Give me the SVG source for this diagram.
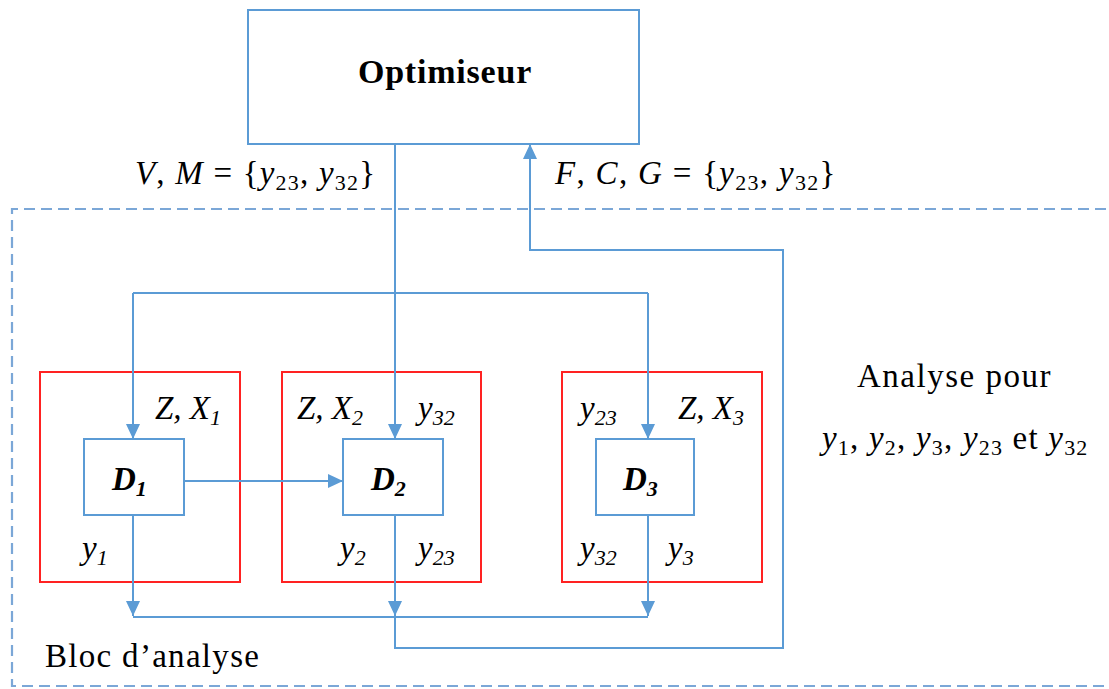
<svg xmlns="http://www.w3.org/2000/svg" width="1109" height="689" viewBox="0 0 1109 689">
<style>
.tx{font-family:"Liberation Serif","Times New Roman",Tinos,"DejaVu Serif","Noto Serif",FreeSerif,serif;fill:#000;font-size:33px}
.i{font-style:italic}
.b{font-weight:bold}
.ln{fill:none;stroke:#5B9BD5;stroke-width:2}
.bx{fill:#fff;stroke:#5B9BD5;stroke-width:2}
.rb{fill:none;stroke:#F22;stroke-width:2}
.ds{fill:none;stroke:#7BA7D7;stroke-width:2.2;stroke-dasharray:11 6}
.s{font-size:22px}
</style>
<defs>
<marker id="ah" markerUnits="userSpaceOnUse" markerWidth="16" markerHeight="16" viewBox="0 0 16 16" refX="15" refY="8" orient="auto">
<path d="M0,1 L15,8 L0,15 z" fill="#5B9BD5"/>
</marker>
</defs>
<g id="bloc">
<path class="ds" d="M1106,209 L12,209 L12,686 L1106,686"/>
<text class="tx" x="45" y="667" letter-spacing="1.3">Bloc d’analyse</text>
</g>
<g id="optimiseur">
<rect class="bx" x="248" y="10" width="391" height="134"/>
<text class="tx b" x="445" y="83" style="font-size:34px" letter-spacing="0.8" text-anchor="middle">Optimiseur</text>
</g>
<g id="d1-group">
<rect class="rb" x="40" y="372" width="200" height="210"/>
<text class="tx i" x="155" y="419">Z, X<tspan class="s" dy="6">1</tspan></text>
<text class="tx i" x="82" y="559">y<tspan class="s" dy="6">1</tspan></text>
</g>
<g id="d2-group">
<rect class="rb" x="282" y="372" width="199" height="210"/>
<text class="tx i" x="297" y="419">Z, X<tspan class="s" dy="6">2</tspan></text>
<text class="tx i" x="418" y="419">y<tspan class="s" dy="6">32</tspan></text>
<text class="tx i" x="340" y="559">y<tspan class="s" dy="6">2</tspan></text>
<text class="tx i" x="418" y="559">y<tspan class="s" dy="6">23</tspan></text>
</g>
<g id="d3-group">
<rect class="rb" x="562" y="372" width="200" height="210"/>
<text class="tx i" x="580" y="419">y<tspan class="s" dy="6">23</tspan></text>
<text class="tx i" x="678" y="419">Z, X<tspan class="s" dy="6">3</tspan></text>
<text class="tx i" x="580" y="559">y<tspan class="s" dy="6">32</tspan></text>
<text class="tx i" x="668" y="559">y<tspan class="s" dy="6">3</tspan></text>
</g>
<g id="connectors">
<path class="ln" d="M395,144 L395,293"/>
<path class="ln" d="M133,293 L648,293"/>
<path class="ln" d="M133,293 L133,439" marker-end="url(#ah)"/>
<path class="ln" d="M395,293 L395,439" marker-end="url(#ah)"/>
<path class="ln" d="M648,293 L648,439" marker-end="url(#ah)"/>
<path class="ln" d="M184,481 L343,481" marker-end="url(#ah)"/>
<path class="ln" d="M133,515 L133,616" marker-end="url(#ah)"/>
<path class="ln" d="M395,515 L395,616" marker-end="url(#ah)"/>
<path class="ln" d="M648,515 L648,616" marker-end="url(#ah)"/>
<path class="ln" d="M133,617 L648,617"/>
<path class="ln" d="M395,617 L395,648 L783,648 L783,250 L530,250 L530,144" marker-end="url(#ah)"/>
</g>
<g id="d1">
<rect class="bx" x="84" y="439" width="100" height="76"/>
<text class="tx i b" x="112" y="490">D<tspan class="s" dy="6">1</tspan></text>
</g>
<g id="d2">
<rect class="bx" x="343" y="439" width="100" height="76"/>
<text class="tx i b" x="371" y="490">D<tspan class="s" dy="6">2</tspan></text>
</g>
<g id="d3">
<rect class="bx" x="596" y="439" width="98" height="76"/>
<text class="tx i b" x="623" y="490">D<tspan class="s" dy="6">3</tspan></text>
</g>
<g id="labels">
<text class="tx" x="135" y="184" letter-spacing="1.2"><tspan class="i">V</tspan>, <tspan class="i">M</tspan> = {<tspan class="i">y</tspan><tspan class="s" dy="6">23</tspan><tspan dy="-6">, </tspan><tspan class="i">y</tspan><tspan class="s" dy="6">32</tspan><tspan dy="-6">}</tspan></text>
<text class="tx" x="555" y="184" letter-spacing="1.3"><tspan class="i">F</tspan>, <tspan class="i">C</tspan>, <tspan class="i">G</tspan> = {<tspan class="i">y</tspan><tspan class="s" dy="6">23</tspan><tspan dy="-6">, </tspan><tspan class="i">y</tspan><tspan class="s" dy="6">32</tspan><tspan dy="-6">}</tspan></text>
<text class="tx" x="857" y="387" letter-spacing="1.5">Analyse pour</text>
<text class="tx" x="822" y="449" letter-spacing="1.2"><tspan class="i">y</tspan><tspan class="s" dy="6">1</tspan><tspan dy="-6">, </tspan><tspan class="i">y</tspan><tspan class="s" dy="6">2</tspan><tspan dy="-6">, </tspan><tspan class="i">y</tspan><tspan class="s" dy="6">3</tspan><tspan dy="-6">, </tspan><tspan class="i">y</tspan><tspan class="s" dy="6">23</tspan><tspan dy="-6"> et </tspan><tspan class="i">y</tspan><tspan class="s" dy="6">32</tspan></text>
</g>
</svg>
